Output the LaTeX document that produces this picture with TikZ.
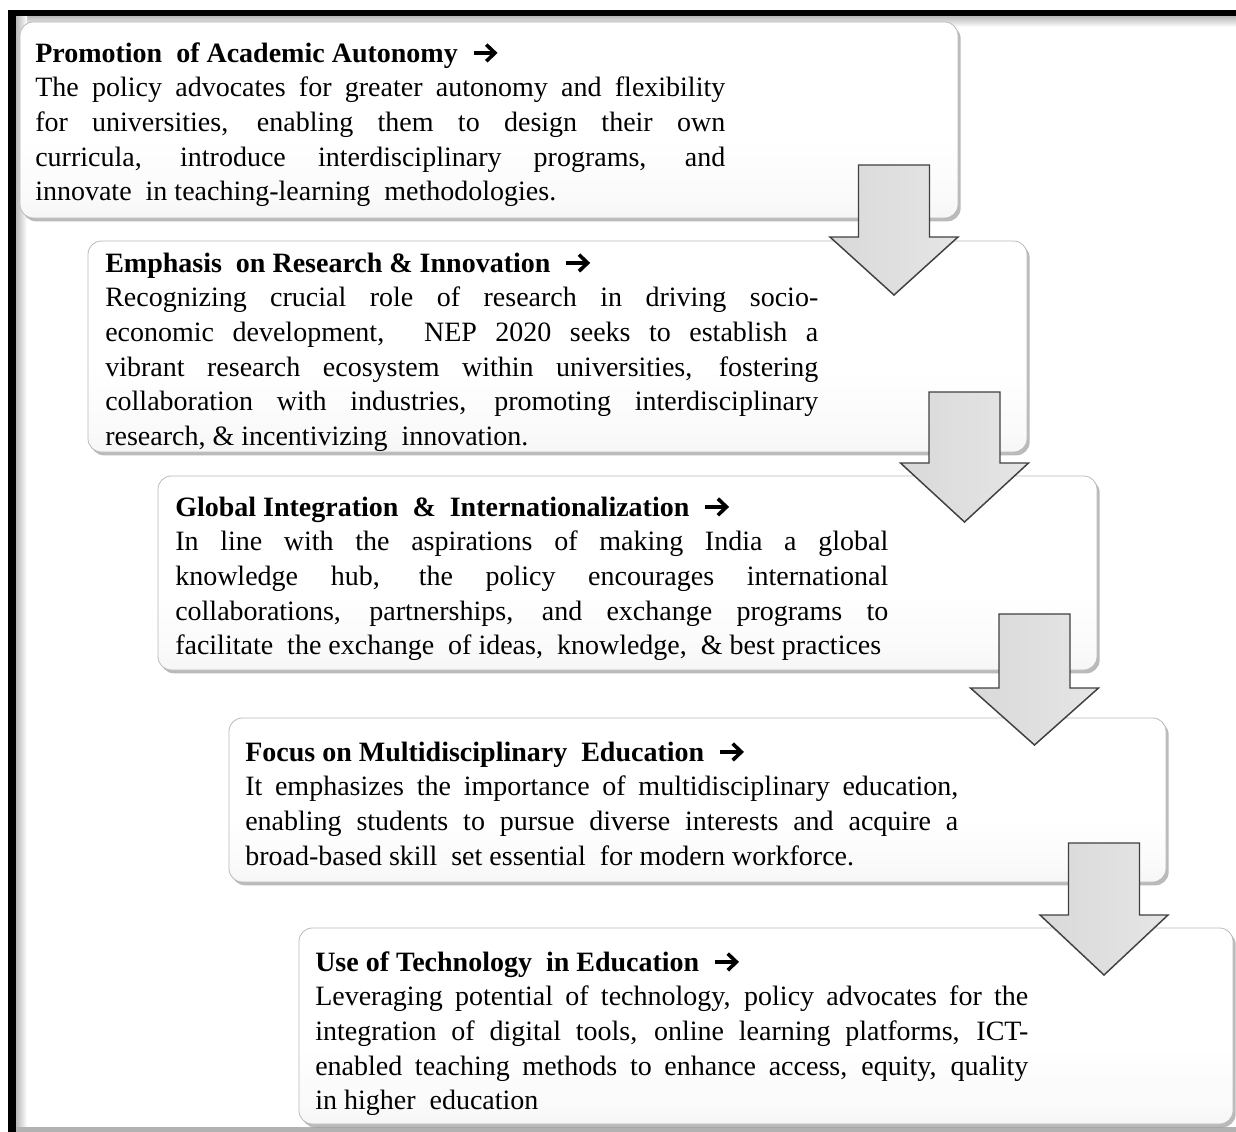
\documentclass[tikz,border=0pt]{standalone}
\usepackage{fontspec}
\setmainfont{Liberation Serif}
\usetikzlibrary{shadows}
\pgfdeclareverticalshading{boxshade}{100bp}{color(0bp)=(gray!22); color(30bp)=(gray!4); color(45bp)=(white); color(100bp)=(white)}
\newcommand\jl[1]{\hbox to\linewidth{#1}}
\newcommand\lastln[1]{\hbox{#1}}
\newcommand\heavyarrow{\tikz[baseline=0pt, x=1pt, y=1pt, line width=2.7pt]{%
  \draw[black, line cap=butt] (0,6.8) -- (15,6.8);
  \draw[black, line join=miter, line cap=butt] (9.5,0.6) -- (16,6.8) -- (9.5,13);}}
\newcommand\ttl[1]{\hbox{\bfseries #1\ \ \heavyarrow}}
\newcommand\barrow[4]{% cx top head tip
  \path[blockarr] (#1-35.5,#2) -- (#1+35.5,#2) -- (#1+35.5,#3) -- (#1+64,#3)
     -- (#1,#4) -- (#1-64,#3) -- (#1-35.5,#3) -- cycle;}
\tikzset{
  box/.style={draw=gray!55, line width=0.6pt, rounded corners=10pt,
    shading=boxshade,
    drop shadow={shadow xshift=2pt, shadow yshift=-2.5pt, opacity=0.45, fill=black!60},
    inner sep=0pt},
  blockarr/.style={draw=black!75, line width=1.1pt, line join=miter,
    left color=gray!30, right color=gray!20},
  txt/.style={anchor=base west, inner sep=0pt, font=\fontsize{21}{26}\selectfont}
}
\begin{document}
\begin{tikzpicture}[x=0.75pt,y=-0.75pt]
\useasboundingbox (0,0) rectangle (1236,1132);
% frame
\shade[top color=gray!55, bottom color=white] (16,16) rectangle (1236,27);
\shade[left color=gray!55, right color=white] (16,16) rectangle (27,1128);
\fill[black] (8,10) rectangle (1236,16);
\fill[black] (8,10) rectangle (16,1132);
\fill[gray!60] (16,1127) rectangle (1236,1132);
% boxes
\node[box, minimum width=703.5pt, minimum height=147pt] (b1) at (489,120) {};
\node[box, minimum width=704.25pt, minimum height=158.25pt] (b2) at (557.5,346.5) {};
\node[box, minimum width=704.25pt, minimum height=145.5pt] (b3) at (627.5,573) {};
\node[box, minimum width=702.75pt, minimum height=123pt] (b4) at (697.5,800) {};
\node[box, minimum width=700.5pt, minimum height=147pt] (b5) at (766,1026) {};
% texts
\node[txt] (t1) at (35,62) {\parbox[t]{517.5pt}{%
\ttl{Promotion \ of Academic Autonomy}
\jl{The policy advocates for greater autonomy and flexibility}
\jl{for universities, enabling them to design their own}
\jl{curricula, introduce interdisciplinary programs, and}
\lastln{innovate \ in teaching-learning \ methodologies.}}};
\node[txt] (t2) at (105,272) {\parbox[t]{534.75pt}{%
\ttl{Emphasis \ on Research \& Innovation}
\jl{Recognizing crucial role of research in driving socio-}
\jl{economic development, \ NEP 2020 seeks to establish a}
\jl{vibrant research ecosystem within universities, fostering}
\jl{collaboration with industries, promoting interdisciplinary}
\lastln{research, \& incentivizing \ innovation.}}};
\node[txt] (t3) at (175,516) {\parbox[t]{534.75pt}{%
\ttl{Global Integration \ \& \ Internationalization}
\jl{In line with the aspirations of making India a global}
\jl{knowledge hub, the policy encourages international}
\jl{collaborations, partnerships, and exchange programs to}
\lastln{facilitate \ the exchange \ of ideas, \ knowledge, \ \& best practices}}};
\node[txt] (t4) at (245,761) {\parbox[t]{534.75pt}{%
\ttl{Focus on Multidisciplinary \ Education}
\jl{It emphasizes the importance of multidisciplinary education,}
\jl{enabling students to pursue diverse interests and acquire a}
\lastln{broad-based skill \ set essential \ for modern workforce.}}};
\node[txt] (t5) at (315,971) {\parbox[t]{534.75pt}{%
\ttl{Use of Technology \ in Education}
\jl{Leveraging potential of technology, policy advocates for the}
\jl{integration of digital tools, online learning platforms, ICT-}
\jl{enabled teaching methods to enhance access, equity, quality}
\lastln{in higher \ education}}};
% arrows
\barrow{894}{165}{237}{295}
\barrow{964.5}{392}{463}{522}
\barrow{1034.5}{614}{688}{745}
\barrow{1104}{843}{915}{975}
\end{tikzpicture}
\end{document}
